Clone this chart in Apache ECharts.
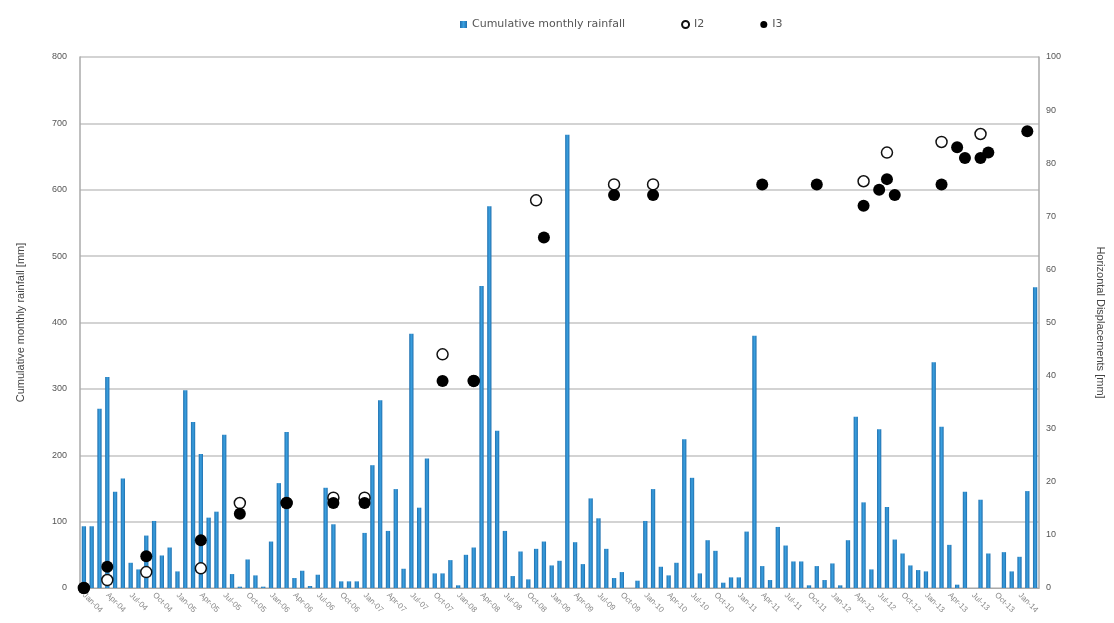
<!DOCTYPE html>
<html>
<head>
<meta charset="utf-8">
<title>Cumulative monthly rainfall and horizontal displacements</title>
<script src="https://cdn.jsdelivr.net/npm/echarts@6/dist/echarts.min.js"></script>
<style>
  html, body { margin: 0; padding: 0; background: #ffffff; }
  #chart { width: 1114px; height: 623px; }
</style>
</head>
<body>
<div id="chart"></div>
<script>
// Month names and years used for the category axis (one category per month)
const monthNames = ['Jan','Feb','Mar','Apr','May','Jun','Jul','Aug','Sep','Oct','Nov','Dec'];
const years = ['04','05','06','07','08','09','10','11','12','13','14'];
const monthCount = 123;

// Cumulative monthly rainfall [mm], one value per month
const rainfall = [
  93, 93, 270, 318, 145, 165, 38, 28, 79, 101,
  49, 61, 25, 298, 250, 202, 106, 115, 231, 21,
  2, 43, 19, 2, 70, 158, 235, 15, 26, 3,
  20, 151, 96, 10, 10, 10, 83, 185, 283, 86,
  149, 29, 383, 121, 195, 22, 22, 42, 4, 50,
  61, 455, 575, 237, 86, 18, 55, 13, 59, 70,
  34, 41, 683, 69, 36, 135, 105, 59, 15, 24,
  0, 11, 101, 149, 32, 19, 38, 224, 166, 22,
  72, 56, 8, 16, 16, 85, 380, 33, 12, 92,
  64, 40, 40, 4, 33, 12, 37, 4, 72, 258,
  129, 28, 239, 122, 73, 52, 34, 27, 25, 340,
  243, 65, 5, 145, 0, 133, 52, 0, 54, 25,
  47, 146, 453
];

// Inclinometer I2 readings: month index and horizontal displacement [mm]
const i2Index  = [0, 3, 8, 15, 20, 26, 32, 36, 46, 50, 58, 68, 73, 100, 103, 110, 115];
const i2Values = [0, 1.5, 3, 3.7, 16, 16, 17, 17, 44, 39, 73, 76, 76, 76.6, 82, 84, 85.5];

// Inclinometer I3 readings: month index and horizontal displacement [mm]
const i3Index  = [0, 3, 8, 15, 20, 26, 32, 36, 46, 50, 59, 68, 73, 87, 94, 100, 102, 103, 104, 110, 112, 113, 115, 116, 121];
const i3Values = [0, 4, 6, 9, 14, 16, 16, 16, 39, 39, 66, 74, 74, 76, 76, 72, 75, 77, 74, 76, 83, 81, 81, 82, 86];

// Build month labels such as "Jan-04"
const categories = [];
for (let i = 0; i < monthCount; i++) {
  categories.push(monthNames[i % 12] + '-' + years[Math.floor(i / 12)]);
}

const toPairs = (idx, vals) => idx.map((k, n) => [categories[k], vals[n]]);

const chart = echarts.init(document.getElementById('chart'), null, { renderer: 'canvas' });

const gridColor = '#c4c4c4';
const labelColor = '#555555';
const fontFamily = 'Liberation Sans, Arial, sans-serif';

chart.setOption({
  animation: false,
  backgroundColor: '#ffffff',
  textStyle: { fontFamily: fontFamily },
  legend: {
    top: 14,
    left: 455,
    itemGap: 56,
    itemWidth: 7,
    itemHeight: 7,
    textStyle: { fontSize: 11, color: '#555555', fontFamily: 'DejaVu Sans, sans-serif' },
    data: [
      { name: 'Cumulative monthly rainfall', icon: 'rect' },
      { name: 'I2', icon: 'circle' },
      { name: 'I3', icon: 'circle' }
    ]
  },
  grid: { left: 80, right: 74, top: 57, bottom: 35, containLabel: false },
  xAxis: {
    type: 'category',
    data: categories,
    boundaryGap: true,
    axisLine: { show: true, lineStyle: { color: '#aaaaaa', width: 1 } },
    axisTick: { show: false },
    axisLabel: {
      interval: 2,
      rotate: -45,
      fontSize: 8,
      color: '#888888',
      margin: 6
    },
    splitLine: { show: false }
  },
  yAxis: [
    {
      type: 'value',
      min: 0,
      max: 800,
      interval: 100,
      name: 'Cumulative monthly rainfall [mm]',
      nameLocation: 'middle',
      nameGap: 54,
      nameTextStyle: { fontSize: 11, color: '#444444' },
      axisLine: { show: true, lineStyle: { color: '#aaaaaa', width: 1.5 } },
      axisTick: { show: false },
      axisLabel: { fontSize: 9, color: labelColor, margin: 13 },
      splitLine: { show: true, lineStyle: { color: gridColor, width: 1.5 } }
    },
    {
      type: 'value',
      min: 0,
      max: 100,
      interval: 10,
      name: 'Horizontal Displacements [mm]',
      nameLocation: 'middle',
      nameGap: 56,
      nameRotate: -90,
      nameTextStyle: { fontSize: 11, color: '#444444' },
      axisLine: { show: true, lineStyle: { color: '#aaaaaa', width: 1.5 } },
      axisTick: { show: false },
      axisLabel: { fontSize: 9, color: labelColor, margin: 7 },
      splitLine: { show: false }
    }
  ],
  series: [
    {
      name: 'Cumulative monthly rainfall',
      type: 'bar',
      yAxisIndex: 0,
      data: rainfall,
      barWidth: '55%',
      itemStyle: {
        color: {
          type: 'linear', x: 0, y: 0, x2: 1, y2: 0,
          colorStops: [
            { offset: 0, color: '#1f6fae' },
            { offset: 0.5, color: '#3aa0e0' },
            { offset: 1, color: '#1f6fae' }
          ]
        }
      }
    },
    {
      name: 'I2',
      type: 'scatter',
      yAxisIndex: 1,
      data: toPairs(i2Index, i2Values),
      symbol: 'circle',
      symbolSize: 11,
      itemStyle: { color: '#ffffff', borderColor: '#111111', borderWidth: 1.5, opacity: 1 },
      z: 3
    },
    {
      name: 'I3',
      type: 'scatter',
      yAxisIndex: 1,
      data: toPairs(i3Index, i3Values),
      symbol: 'circle',
      symbolSize: 12,
      itemStyle: { color: '#000000', opacity: 1 },
      z: 4
    }
  ]
});
</script>
</body>
</html>
